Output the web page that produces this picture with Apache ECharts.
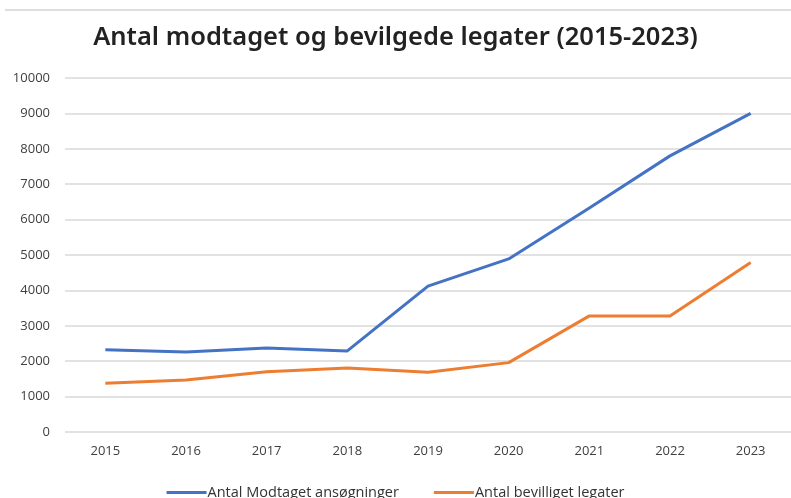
<!DOCTYPE html>
<html>
<head>
<meta charset="utf-8">
<script src="https://cdn.jsdelivr.net/npm/echarts@6/dist/echarts.min.js"></script>
<style>
  html, body { margin: 0; padding: 0; background: #fff; }
  #chart { width: 791px; height: 498px; }
</style>
</head>
<body>
<div id="chart"></div>
<script>
// år og værdier
var years = ['2015', '2016', '2017', '2018', '2019', '2020', '2021', '2022', '2023'];
var modtaget = [2320, 2260, 2370, 2290, 4120, 4890, 6330, 7800, 9000];
var bevilget = [1380, 1470, 1700, 1810, 1690, 1960, 3280, 3280, 4790];
var seriesNames = ['Antal Modtaget ansøgninger', 'Antal bevilliget legater'];

var myChart = echarts.init(document.getElementById('chart'));
var labelFont = '"Open Sans", sans-serif';

var option = {
    backgroundColor: '#fff',
    animation: false,
    title: {
        text: 'Antal modtaget og bevilgede legater (2015-2023)',
        left: 'center',
        top: 20,
        textStyle: {
            fontFamily: '"Noto Sans", sans-serif',
            fontWeight: 600,
            fontSize: 25.5,
            color: '#222'
        }
    },
    graphic: [{
        type: 'line',
        shape: { x1: 5, y1: 10, x2: 791, y2: 10 },
        style: { stroke: '#d4d4d4', lineWidth: 1.5 }
    }],
    legend: {
        top: 480,
        left: 'center',
        itemWidth: 40,
        itemHeight: 3,
        itemGap: 35,
        icon: 'rect',
        data: seriesNames,
        textStyle: { fontFamily: labelFont, fontSize: 14.5, color: '#333', padding: [0, 0, 0, -4] }
    },
    grid: {
        left: 65,
        right: -3,
        top: 78,
        bottom: 66
    },
    xAxis: {
        type: 'category',
        data: years,
        boundaryGap: true,
        axisLine: { show: false },
        axisTick: { show: false },
        axisLabel: { fontFamily: labelFont, fontSize: 13, color: '#404040', margin: 13 }
    },
    yAxis: {
        type: 'value',
        min: 0,
        max: 10000,
        interval: 1000,
        axisLine: { show: false },
        axisTick: { show: false },
        axisLabel: {
            fontFamily: labelFont, fontSize: 13, color: '#404040', margin: 15,
            formatter: function (v) { return String(v); }
        },
        splitLine: { lineStyle: { color: '#d9d9d9', width: 1.5 } }
    },
    series: [
        {
            name: seriesNames[0],
            type: 'line',
            data: modtaget,
            symbol: 'none',
            color: '#4472C4',
            lineStyle: { width: 3, color: '#4472C4' }
        },
        {
            name: seriesNames[1],
            type: 'line',
            data: bevilget,
            symbol: 'none',
            color: '#ED7D31',
            lineStyle: { width: 3, color: '#ED7D31' }
        }
    ]
};
myChart.setOption(option);
</script>
</body>
</html>
